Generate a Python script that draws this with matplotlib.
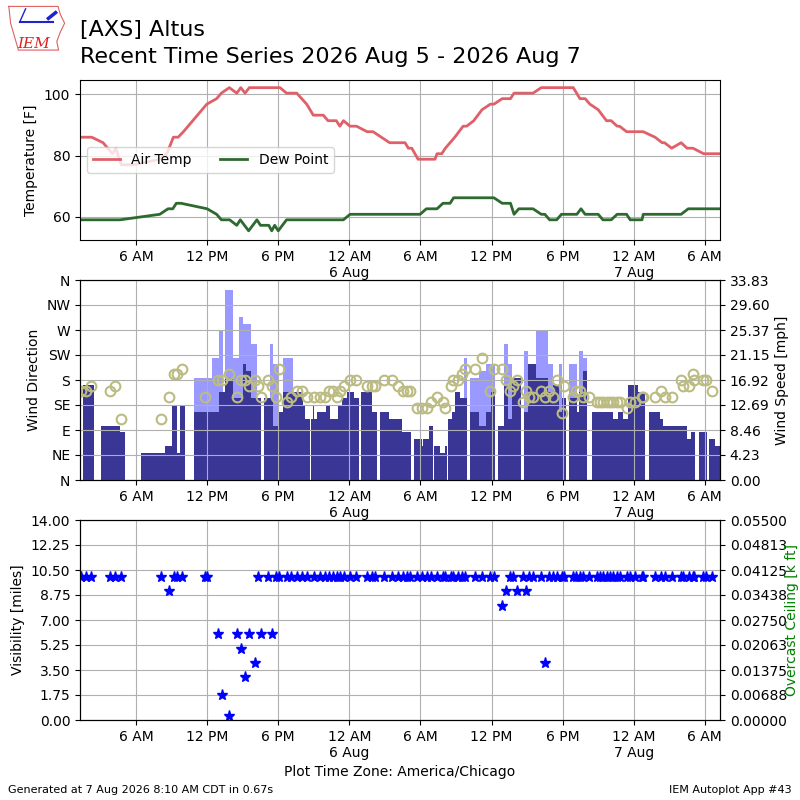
import datetime
import numpy as np
import matplotlib
matplotlib.use('Agg')
import matplotlib.pyplot as plt
import matplotlib.dates as mdates
from matplotlib.ticker import FuncFormatter, FormatStrFormatter

# time axis: hours since 2026-08-05 00:00 America/Chicago
BASE = datetime.datetime(2026, 8, 5)
plot_start_h = 1.27
plot_end_h = 55.28

# air temperature [F]
temp_hours = [1.27, 2.26, 3.22, 4.00, 4.30, 4.75, 5.80, 8.00, 8.60, 9.15,
              9.55, 10.00, 11.97, 12.80, 13.20, 13.87, 14.50, 14.84, 15.20, 15.56,
              18.15, 18.70, 19.56, 20.40, 20.96, 21.80, 22.20, 22.90, 23.20, 23.50,
              24.06, 24.60, 25.50, 26.00, 26.70, 27.40, 28.70, 28.98, 29.27, 29.80,
              31.23, 31.40, 31.80, 32.10, 32.50, 32.90, 33.60, 33.90, 34.50, 35.20,
              35.90, 36.20, 36.90, 37.60, 37.90, 39.50, 40.20, 42.90, 43.46, 43.90,
              44.30, 45.00, 45.70, 46.10, 46.60, 46.80, 47.40, 48.80, 49.80, 50.40,
              50.60, 51.20, 52.00, 52.50, 53.00, 53.90, 55.28]
temp_f = [86, 86, 84.2, 80.6, 82.4, 77, 77, 78.8, 80.6, 86,
          86, 87.8, 96.8, 98.6, 100.4, 102.2, 100.4, 102.2, 100.4, 102.2,
          102.2, 100.4, 100.4, 96.8, 93.2, 93.2, 91.4, 91.4, 89.6, 91.4,
          89.6, 89.6, 87.8, 87.8, 86, 84.2, 84.2, 82.4, 82.4, 78.8,
          78.8, 80.6, 80.6, 82.4, 84.2, 86, 89.6, 89.6, 91.4, 95,
          96.8, 96.8, 98.6, 98.6, 100.4, 100.4, 102.2, 102.2, 98.6, 98.6,
          96.8, 95, 91.4, 91.4, 89.6, 89.6, 87.8, 87.8, 86, 84.2,
          84.2, 82.4, 84.2, 82.4, 82.4, 80.6, 80.6]

# dew point [F]
dewp_hours = [1.27, 4.65, 8.00, 8.70, 9.10, 9.40, 9.80, 12.00, 12.80, 13.20,
              13.90, 14.50, 14.80, 15.50, 16.20, 16.50, 17.20, 17.45, 17.70, 18.00,
              18.70, 23.50, 24.06, 29.97, 30.50, 31.40, 31.90, 32.50, 32.80, 36.20,
              36.90, 37.60, 37.90, 38.30, 39.50, 40.20, 40.50, 40.90, 41.50, 41.90,
              43.20, 43.55, 43.90, 45.00, 45.40, 46.10, 46.60, 47.40, 47.70, 48.70,
              48.80, 52.00, 52.60, 55.28]
dewp_f = [59, 59, 60.8, 62.6, 62.6, 64.4, 64.4, 62.6, 60.8, 59,
          59, 57.2, 59, 55.4, 59, 57.2, 57.2, 55.4, 57.2, 55.4,
          59, 59, 60.8, 60.8, 62.6, 62.6, 64.4, 64.4, 66.2, 66.2,
          64.4, 64.4, 60.8, 62.6, 62.6, 60.8, 60.8, 59, 59, 60.8,
          60.8, 62.6, 60.8, 60.8, 59, 59, 60.8, 60.8, 59, 59,
          60.8, 60.8, 62.6, 62.6]

# wind speed / gust bars [kt]
bar_hours = [1.55, 2.41, 3.02, 4.61, 5.03, 6.41, 8.46, 9.05, 9.46, 9.69,
             10.12, 10.89, 12.44, 13.02, 13.38, 13.51, 14.16, 14.69, 15.00, 15.28,
             15.68, 16.19, 16.57, 16.78, 17.33, 17.59, 18.07, 18.38, 19.22, 20.12,
             20.26, 20.68, 20.74, 20.96, 21.05, 21.30, 22.03, 22.37, 23.02, 23.41,
             23.78, 24.42, 24.82, 24.96, 25.89, 26.31, 26.59, 27.35, 28.42, 29.18,
             29.46, 30.11, 30.24, 30.73, 31.04, 31.15, 31.65, 32.08, 32.20, 32.35,
             32.69, 32.92, 33.34, 33.68, 33.91, 34.19, 34.95, 35.51, 35.98, 36.32,
             36.55, 37.05, 37.39, 37.73, 38.51, 38.74, 39.08, 39.42, 39.78, 40.77,
             41.19, 41.67, 41.94, 42.31, 42.51, 43.24, 43.38, 43.72, 44.05, 44.51,
             46.28, 46.70, 47.12, 47.55, 48.39, 48.95, 49.29, 50.22, 50.50, 52.47,
             52.81, 53.17, 53.51, 54.16, 54.35, 54.86]
sknt = [14, 0, 8, 7, 0, 4, 5, 11, 4, 11,
        0, 10, 10, 13, 13, 15, 12, 12, 17, 16,
        12, 12, 0, 12, 12, 8, 10, 13, 13, 11,
        9, 0, 9, 11, 9, 10, 11, 9, 11, 12,
        13, 12, 0, 13, 10, 0, 10, 9, 7, 0,
        6, 5, 6, 8, 0, 5, 4, 5, 0, 9,
        10, 13, 12, 12, 0, 10, 8, 10, 13, 0,
        8, 14, 9, 15, 0, 10, 17, 17, 15, 13,
        14, 10, 12, 0, 12, 10, 13, 16, 0, 10,
        9, 10, 9, 14, 13, 0, 10, 9, 8, 6,
        7, 0, 7, 0, 6, 5]
gust = [0, 0, 0, 0, 0, 0, 0, 0, 0, 0,
        0, 15, 18, 22, 0, 28, 18, 24, 23, 23,
        20, 0, 0, 0, 20, 17, 0, 18, 0, 0,
        0, 0, 0, 0, 0, 0, 0, 0, 0, 0,
        0, 0, 0, 0, 0, 0, 0, 0, 0, 0,
        0, 0, 0, 0, 0, 0, 0, 0, 0, 0,
        0, 0, 0, 18, 0, 15, 16, 17, 17, 0,
        0, 20, 17, 0, 0, 19, 0, 0, 22, 17,
        0, 17, 0, 0, 17, 0, 19, 18, 0, 0,
        0, 0, 0, 0, 0, 0, 0, 0, 0, 0,
        0, 0, 0, 0, 0, 0]

# observations: wind direction [deg] and visibility [miles]
obs_hours = [1.38, 1.81, 2.23, 3.83, 4.20, 4.71, 8.14, 8.76, 9.21, 9.43,
             9.88, 11.85, 12.02, 12.92, 13.26, 13.82, 14.55, 14.89, 15.17, 15.51,
             16.01, 16.30, 16.52, 17.14, 17.48, 17.84, 18.09, 18.77, 19.10, 19.56,
             19.98, 20.40, 21.02, 21.53, 21.95, 22.31, 22.60, 22.94, 23.22, 23.55,
             24.06, 24.57, 25.47, 25.89, 26.17, 26.93, 27.58, 28.14, 28.56, 28.84,
             29.12, 29.74, 30.10, 30.53, 30.87, 31.37, 31.93, 32.08, 32.56, 32.78,
             33.20, 33.49, 33.76, 34.61, 35.17, 35.87, 36.21, 36.86, 37.22, 37.56,
             37.84, 38.18, 38.68, 38.91, 39.19, 39.53, 40.15, 40.51, 40.88, 41.22,
             41.50, 41.92, 42.14, 42.85, 43.13, 43.47, 43.70, 44.26, 44.88, 45.16,
             45.44, 45.72, 46.00, 46.28, 46.57, 46.84, 47.41, 47.69, 48.11, 48.68,
             48.81, 49.80, 50.28, 50.64, 51.20, 52.00, 52.15, 52.64, 53.03, 53.10,
             53.82, 54.10, 54.58]
obs_drct = [160, 160, 170, 160, 170, 110, 110, 150, 190, 190,
            200, 150, np.nan, 180, 180, 190, 150, 180, 180, 170,
            180, 170, 150, 180, 170, 150, 200, 140, 150, 160,
            160, 150, 150, 150, 150, 160, 160, 150, 160, 170,
            180, 180, 170, 170, 170, 180, 180, 170, 160, 160,
            160, 130, 130, 130, 140, 150, 140, 130, 170, 180,
            180, 190, 200, 200, 220, 160, 200, 200, 180, 160,
            170, 180, 140, 160, 150, 150, 160, 150, 160, 150,
            180, 120, 170, 150, 160, 160, 150, 150, 140, 140,
            140, 140, 140, 140, 140, 140, 130, 140, 140, 150,
            150, 150, 160, 150, 150, 180, 170, 170, 190, 180,
            180, 180, 160]
obs_vsby = [10, 10, 10, 10, 10, 10, 10, 9, 10, 10,
            10, 10, 10, 6, 1.75, 0.25, 6, 5, 3, 6,
            4, 10, 6, 10, 6, 10, 10, 10, 10, 10,
            10, 10, 10, 10, 10, 10, 10, 10, 10, 10,
            10, 10, 10, 10, 10, 10, 10, 10, 10, 10,
            10, 10, 10, 10, 10, 10, 10, 10, 10, 10,
            10, 10, 10, 10, 10, 10, 10, 8, 9, 10,
            10, 9, 10, 9, 10, 10, 10, 4, 10, 10,
            10, 10, 10, 10, 10, 10, 10, 10, 10, 10,
            10, 10, 10, 10, 10, 10, 10, 10, 10, 10,
            10, 10, 10, 10, 10, 10, 10, 10, 10, 10,
            10, 10, 10]

drct_labels = ['N', 'NE', 'E', 'SE', 'S', 'SW', 'W', 'NW', 'N']
ceil_top = 0.055
KT2MPH = 1.15078


def to_num(hours):
    return mdates.date2num(BASE) + np.asarray(hours, float) / 24.0


def time_label(x, pos=None):
    d = mdates.num2date(x)
    s = d.strftime('%I %p').lstrip('0')
    if d.hour == 0:
        s += '\n' + d.strftime('%d %b').lstrip('0')
    return s


def setup_time(ax):
    ax.set_xlim(to_num(plot_start_h), to_num(plot_end_h))
    ax.xaxis.set_major_locator(mdates.HourLocator(byhour=[0, 6, 12, 18]))
    ax.xaxis.set_major_formatter(FuncFormatter(time_label))


fig = plt.figure(figsize=(8, 8), dpi=100)

# header
fig.text(0.1, 0.962, '[AXS] Altus', fontsize=16, va='center')
fig.text(0.1, 0.929, 'Recent Time Series 2026 Aug 5 - 2026 Aug 7',
         fontsize=16, va='center')

# rough logo
lax = fig.add_axes([0.008, 0.935, 0.075, 0.06])
lax.set_xlim(0, 1)
lax.set_ylim(0, 1)
lax.axis('off')
outline = [(0.04, 0.95), (0.86, 0.95), (0.9, 0.78), (0.97, 0.6), (0.9, 0.42),
           (0.84, 0.22), (0.87, 0.04), (0.2, 0.04), (0.14, 0.3), (0.07, 0.6), (0.04, 0.95)]
lax.plot([p[0] for p in outline], [p[1] for p in outline], color='#e06060', lw=0.8)
lax.plot([0.22, 0.78], [0.62, 0.62], color='#2222cc', lw=1.5)
lax.plot([0.22, 0.32], [0.62, 0.9], color='#2222cc', lw=1)
lax.plot([0.7, 0.82], [0.7, 0.82], color='#2222cc', lw=2.5)
lax.text(0.18, 0.08, 'IEM', color='#dd2222', fontsize=11, family='DejaVu Serif',
         style='italic')

# temperature panel
ax1 = fig.add_axes([0.1, 0.7, 0.8, 0.2])
ax1.plot(to_num(temp_hours), temp_f, color='#e0606a', lw=2, label='Air Temp')
ax1.plot(to_num(dewp_hours), dewp_f, color='#2e6930', lw=2, label='Dew Point')
ax1.set_ylim(min(dewp_f) - 3, max(temp_f) + 2.5)
ax1.set_yticks([60, 80, 100])
ax1.set_ylabel('Temperature [F]')
ax1.grid(True)
ax1.legend(loc='center left', ncol=2)
setup_time(ax1)

# wind panel
ax2 = fig.add_axes([0.1, 0.4, 0.8, 0.25])
ax2w = ax2.twinx()
widths = np.diff(np.append(bar_hours, plot_end_h)) / 24.0
sknt_mph = np.array(sknt) * KT2MPH
gust_mph = np.array(gust) * KT2MPH
ax2w.bar(to_num(bar_hours), gust_mph, width=widths, align='edge',
         color='#9999ff', linewidth=0)
ax2w.bar(to_num(bar_hours), sknt_mph, width=widths, align='edge',
         color='#393696', linewidth=0)
wmax = gust_mph.max() * 1.05
ax2w.set_ylim(0, wmax)
ax2w.set_yticks(np.linspace(0, wmax, 9))
ax2w.yaxis.set_major_formatter(FormatStrFormatter('%.2f'))
ax2w.set_ylabel('Wind Speed [mph]')

ax2.plot(to_num(obs_hours), obs_drct, 'o', ms=7, mfc='none', mec='#bcbc82',
         mew=1.5)
ax2.set_ylim(0, 360)
ax2.set_yticks(range(0, 361, 45))
ax2.set_yticklabels(drct_labels)
ax2.set_ylabel('Wind Direction')
ax2.grid(True)
ax2.set_zorder(ax2w.get_zorder() + 1)
ax2.patch.set_visible(False)
setup_time(ax2)

# visibility panel
ax3 = fig.add_axes([0.1, 0.1, 0.8, 0.25])
ax3c = ax3.twinx()
ax3c.set_ylim(0, ceil_top)
ax3c.set_yticks(np.linspace(0, ceil_top, 9))
ax3c.yaxis.set_major_formatter(FormatStrFormatter('%.5f'))
ax3c.set_ylabel('Overcast Ceiling [k ft]', color='g')
ax3c.yaxis.set_label_coords(1.1016, 0.5)

ax3.plot(to_num(obs_hours), obs_vsby, '*', color='b', ms=8, ls='none')
ax3.set_ylim(0, 14)
ax3.set_yticks(np.arange(0, 14.01, 1.75))
ax3.yaxis.set_major_formatter(FormatStrFormatter('%.2f'))
ax3.set_ylabel('Visibility [miles]')
ax3.set_xlabel('Plot Time Zone: America/Chicago')
ax3.grid(True)
ax3.set_zorder(ax3c.get_zorder() + 1)
ax3.patch.set_visible(False)
setup_time(ax3)

# footer
fig.text(0.01, 0.0125, 'Generated at 7 Aug 2026 8:10 AM CDT in 0.67s',
         fontsize=8, va='center')
fig.text(0.99, 0.0125, 'IEM Autoplot App #43', fontsize=8, ha='right', va='center')

fig.savefig('out.png', dpi=100)
